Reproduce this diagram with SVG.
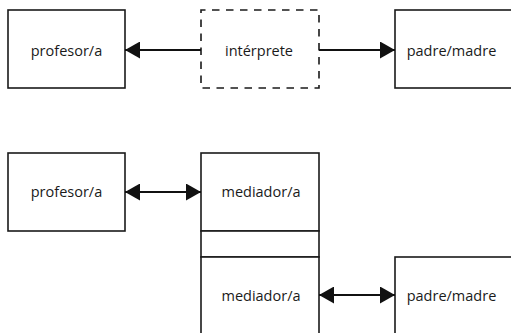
<svg xmlns="http://www.w3.org/2000/svg" width="511" height="333" viewBox="0 0 511 333">
<defs>
<style>
.box{fill:#fff;stroke:#1a1a1a;stroke-width:1.6}
.dash{fill:#fff;stroke:#1a1a1a;stroke-width:1.6;stroke-dasharray:7.5 6.5;stroke-dashoffset:3}
.lbl{font-family:"Open Sans","Liberation Sans",Arial,sans-serif;font-size:14.5px;fill:#1a1a1a;text-anchor:middle}
.conn{stroke:#111;stroke-width:2;fill:none}
</style>
<marker id="ah" viewBox="0 0 15 17" refX="15" refY="8.5" markerWidth="15" markerHeight="17" markerUnits="userSpaceOnUse" orient="auto-start-reverse">
<path d="M0,0 L15,8.5 L0,17 Z" fill="#111"/>
</marker>
</defs>
<rect width="511" height="333" fill="#fff"/>
<g id="n-profesor-top"><rect class="box" x="8" y="10" width="117" height="78"/><text class="lbl" x="66.5" y="55.5">profesor/a</text></g>
<g id="n-interprete"><rect class="dash" x="201" y="10" width="118" height="78"/><text class="lbl" x="259" y="55.5">intérprete</text></g>
<g id="n-padre-top"><rect class="box" x="395" y="10" width="117" height="78"/><text class="lbl" x="451.5" y="55.5">padre/madre</text></g>
<g id="n-profesor-bottom"><rect class="box" x="8" y="153" width="117" height="78"/><text class="lbl" x="66.5" y="197">profesor/a</text></g>
<g id="n-mediador-top"><rect class="box" x="201" y="153" width="118" height="78"/><text class="lbl" x="261" y="197">mediador/a</text></g>
<g id="n-band"><rect class="box" x="201" y="231" width="118" height="26"/></g>
<g id="n-mediador-bottom"><rect class="box" x="201" y="257" width="118" height="80"/><text class="lbl" x="261" y="300.5">mediador/a</text></g>
<g id="n-padre-bottom"><rect class="box" x="395" y="257" width="117" height="80"/><text class="lbl" x="451.5" y="300.5">padre/madre</text></g>
<g id="connectors">
<line class="conn" x1="201" y1="50" x2="125" y2="50" marker-end="url(#ah)"/>
<line class="conn" x1="319" y1="50" x2="395" y2="50" marker-end="url(#ah)"/>
<line class="conn" x1="125" y1="192" x2="201" y2="192" marker-start="url(#ah)" marker-end="url(#ah)"/>
<line class="conn" x1="319" y1="295" x2="395" y2="295" marker-start="url(#ah)" marker-end="url(#ah)"/>
</g>
</svg>
